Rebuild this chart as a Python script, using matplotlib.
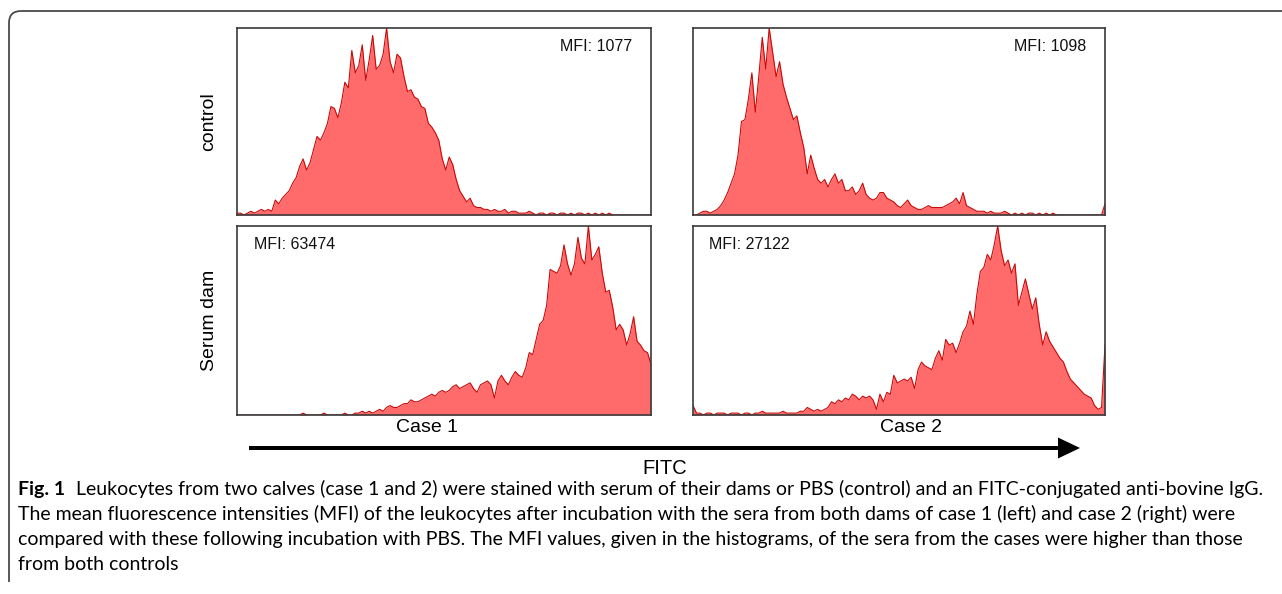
#!/usr/bin/env python3
"""Flow cytometry FITC histograms (control vs. serum dam) for two calves."""

import matplotlib

matplotlib.use("Agg")

import matplotlib.pyplot as plt
import numpy as np
from matplotlib.path import Path
from matplotlib.patches import PathPatch

# relative counts per FITC channel bin (peak = 100)
CONTROL_CASE1 = [
    1, 1, 0, 1, 2, 1, 2, 3, 2, 3, 2, 8, 6, 9, 11, 13, 17, 20, 26, 30,
    24, 28, 35, 42, 40, 44, 49, 58, 57, 52, 60, 71, 68, 88, 76, 80, 91, 72, 83, 96,
    78, 80, 86, 100, 82, 76, 86, 84, 74, 66, 67, 63, 62, 58, 57, 49, 47, 44, 40, 30,
    24, 31, 27, 19, 13, 10, 7, 9, 5, 4, 4, 3, 3, 2, 3, 2, 2, 3, 1, 2,
    2, 1, 1, 1, 2, 1, 0, 1, 1, 0, 1, 1, 0, 1, 1, 0, 1, 0, 1, 1,
    0, 1, 0, 1, 0, 1, 0, 1, 0, 0, 0, 0, 0, 0, 0, 0, 0, 0, 0, 0,
]
CONTROL_CASE2 = [
    0, 0, 1, 2, 2, 1, 2, 3, 5, 8, 12, 17, 22, 32, 50, 51, 62, 76, 55, 74,
    95, 78, 100, 87, 74, 82, 70, 63, 57, 51, 53, 44, 36, 22, 32, 25, 19, 17, 19, 15,
    19, 22, 17, 19, 13, 13, 15, 11, 13, 17, 11, 9, 8, 9, 12, 12, 9, 8, 7, 5,
    4, 6, 8, 5, 4, 3, 3, 4, 5, 4, 4, 4, 4, 5, 6, 7, 9, 6, 12, 5,
    4, 3, 2, 2, 2, 1, 2, 1, 1, 1, 2, 1, 0, 1, 0, 1, 0, 1, 1, 0,
    1, 0, 1, 0, 1, 0, 0, 0, 0, 0, 0, 0, 0, 0, 0, 0, 0, 0, 0, 6,
]
SERUM_CASE1 = [
    0, 0, 0, 0, 0, 0, 0, 0, 0, 0, 0, 0, 0, 0, 0, 0, 0, 0, 0, 1,
    0, 0, 0, 0, 0, 1, 0, 0, 0, 0, 0, 1, 0, 0, 1, 1, 2, 1, 2, 1,
    2, 3, 2, 4, 5, 4, 4, 5, 6, 6, 8, 7, 7, 8, 9, 10, 11, 10, 12, 13,
    12, 13, 15, 16, 14, 15, 16, 17, 14, 12, 16, 17, 18, 16, 9, 18, 21, 18, 16, 20,
    23, 21, 20, 25, 33, 32, 40, 48, 50, 58, 77, 76, 75, 79, 90, 80, 74, 80, 94, 83,
    80, 100, 82, 85, 89, 75, 65, 66, 57, 45, 48, 45, 37, 43, 52, 39, 37, 34, 33, 27,
]
SERUM_CASE2 = [
    5, 1, 1, 0, 1, 1, 0, 1, 1, 1, 0, 1, 1, 1, 0, 1, 1, 0, 1, 1,
    2, 1, 1, 1, 1, 1, 2, 1, 1, 1, 1, 2, 2, 4, 3, 2, 3, 2, 3, 4,
    7, 6, 8, 7, 9, 8, 11, 10, 8, 10, 9, 10, 8, 3, 11, 7, 12, 11, 21, 17,
    18, 19, 18, 20, 14, 24, 28, 26, 25, 24, 30, 34, 29, 40, 37, 38, 33, 38, 44, 47,
    55, 48, 64, 76, 78, 85, 82, 90, 100, 87, 79, 82, 75, 80, 58, 65, 72, 64, 56, 62,
    48, 37, 44, 39, 36, 33, 30, 28, 23, 19, 17, 15, 13, 11, 10, 9, 5, 3, 4, 37,
]

PANELS = [
    [CONTROL_CASE1, CONTROL_CASE2],
    [SERUM_CASE1, SERUM_CASE2],
]
MFI_VALUES = [[1077, 1098], [63474, 27122]]
ROW_LABELS = ["control", "Serum dam"]
CASE_LABELS = ["Case 1", "Case 2"]
AXIS_LABEL = "FITC"

CAPTION_BOLD = "Fig. 1"
CAPTION_LINES = [
    "Leukocytes from two calves (case 1 and 2) were stained with serum of their dams or PBS (control) and an FITC-conjugated anti-bovine IgG.",
    "The mean fluorescence intensities (MFI) of the leukocytes after incubation with the sera from both dams of case 1 (left) and case 2 (right) were",
    "compared with these following incubation with PBS. The MFI values, given in the histograms, of the sera from the cases were higher than those",
    "from both controls",
]

W, H = 1282, 594
FILL = "#ff6b6b"
EDGE = "#c80a0a"
SPINE = "#3a3a3a"
LABEL_FONT = ["Liberation Sans", "DejaVu Sans"]
CAPTION_FONT = ["Lato", "DejaVu Sans"]

# panel boxes in pixels: left, top, right, bottom
COL_X = [(237, 651), (693, 1105)]
ROW_Y = [(28, 215), (226, 415)]


def px_axes(fig, x0, y0, x1, y1):
    return fig.add_axes([x0 / W, 1 - y1 / H, (x1 - x0) / W, (y1 - y0) / H])


def draw_hist(ax, counts, mfi, right_label):
    counts = np.asarray(counts, dtype=float)
    chan = np.linspace(0, 1023, len(counts))
    ax.fill_between(chan, counts, 0, color=FILL, lw=0)
    ax.plot(chan, counts, color=EDGE, lw=0.8)
    ax.set_xlim(0, 1023)
    ax.set_ylim(0, 100)
    ax.set_xticks([])
    ax.set_yticks([])
    for sp in ax.spines.values():
        sp.set_color(SPINE)
        sp.set_linewidth(1.2)
        sp.set_zorder(5)
    if right_label:
        ax.text(0.955, 0.9, f"MFI: {mfi}", transform=ax.transAxes, ha="right",
                va="center", fontsize=11.5, family=LABEL_FONT, color="#111111")
    else:
        ax.text(0.04, 0.9, f"MFI: {mfi}", transform=ax.transAxes, ha="left",
                va="center", fontsize=11.5, family=LABEL_FONT, color="#111111")


def main() -> None:
    fig = plt.figure(figsize=(W / 100, H / 100), dpi=100)

    # overlay in pixel units for frame, labels, arrow and caption
    over = fig.add_axes([0, 0, 1, 1])
    over.set_xlim(0, W)
    over.set_ylim(H, 0)
    over.axis("off")

    frame = Path(
        [(9, 582), (9, 23), (9, 11), (21, 11), (W, 11)],
        [Path.MOVETO, Path.LINETO, Path.CURVE3, Path.CURVE3, Path.LINETO],
    )
    over.add_patch(PathPatch(frame, fill=False, ec="#4a4a4a", lw=1.3))

    for r, (y0, y1) in enumerate(ROW_Y):
        for c, (x0, x1) in enumerate(COL_X):
            ax = px_axes(fig, x0, y0, x1, y1)
            draw_hist(ax, PANELS[r][c], MFI_VALUES[r][c], right_label=(r == 0))
        over.text(209, (y0 + y1) / 2, ROW_LABELS[r], rotation=90, ha="center",
                  va="center", fontsize=14, family=LABEL_FONT)

    over.text(427, 428, CASE_LABELS[0], ha="center", va="center", fontsize=14,
              family=LABEL_FONT)
    over.text(911, 427, CASE_LABELS[1], ha="center", va="center", fontsize=14,
              family=LABEL_FONT)

    over.arrow(249, 448, 831, 0, width=4, head_width=21, head_length=22,
               length_includes_head=True, color="black", lw=0)
    over.text(665, 468, AXIS_LABEL, ha="center", va="center", fontsize=14.5,
              family=LABEL_FONT)

    # caption: fit the first line to the width seen in the reference
    cap_size = 14.0
    line_y = [489, 514, 539, 564]
    bold = over.text(18, line_y[0], CAPTION_BOLD, ha="left", va="center",
                     fontsize=cap_size, fontweight="bold", family=CAPTION_FONT)
    rest = [over.text(0, y, s, ha="left", va="center", fontsize=cap_size,
                      family=CAPTION_FONT) for s, y in zip(CAPTION_LINES, line_y)]
    renderer = fig.canvas.get_renderer()
    for _ in range(2):
        bw = bold.get_window_extent(renderer).width
        gap = 0.55 * cap_size * 100 / 72
        rest[0].set_x(18 + bw + gap)
        for t in rest[1:]:
            t.set_x(18)
        right = rest[0].get_window_extent(renderer).x1
        cap_size *= (1265 - 18) / (right - 18)
        bold.set_fontsize(cap_size)
        for t in rest:
            t.set_fontsize(cap_size)
    bw = bold.get_window_extent(renderer).width
    rest[0].set_x(18 + bw + 0.55 * cap_size * 100 / 72)

    fig.savefig("out.png", dpi=100, facecolor="white")
    plt.close(fig)


if __name__ == "__main__":
    main()
